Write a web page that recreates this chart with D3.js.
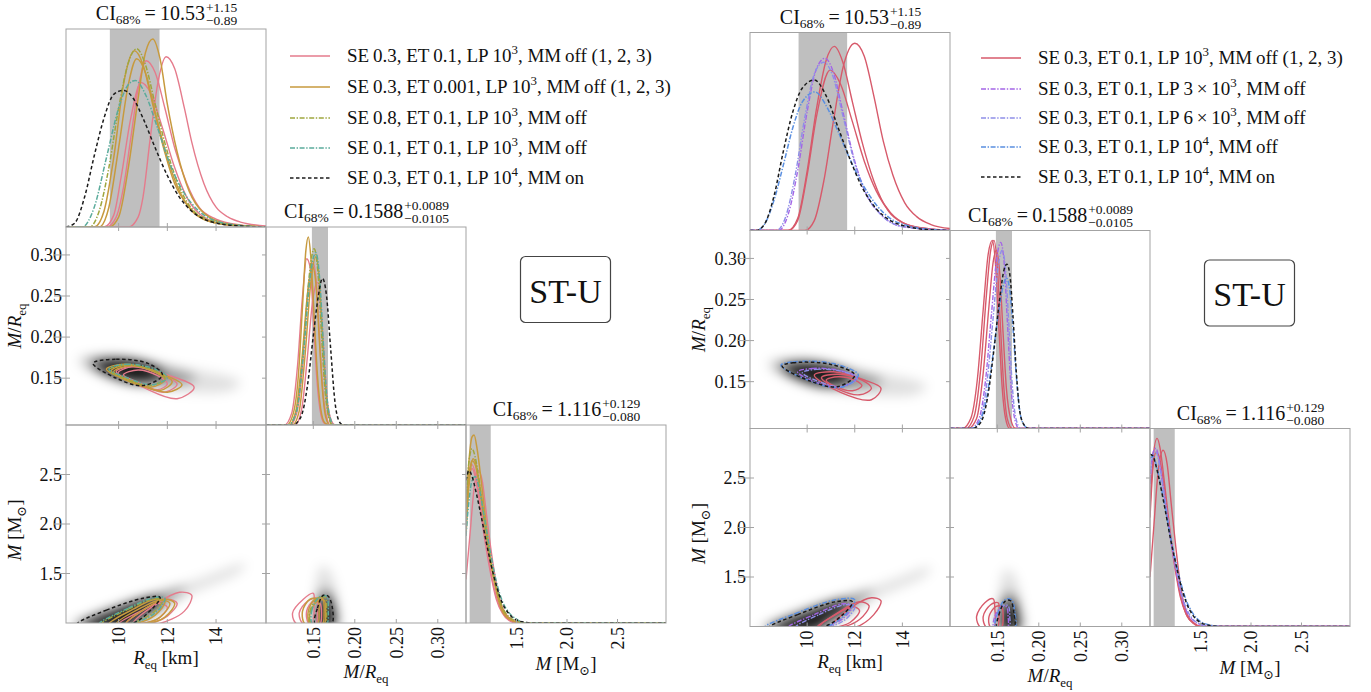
<!DOCTYPE html>
<html><head><meta charset="utf-8">
<script src="https://cdn.jsdelivr.net/npm/d3@7"></script>
<style>
body{margin:0;background:#fff}
svg{display:block}
</style>
</head><body>
<svg id="c" width="1371" height="692"></svg>
<script>
// ---------- axis setup ----------
const REQ_TICKS=[10,12,14], MR_TICKS=[0.15,0.20,0.25,0.30], M_TICKS=[1.5,2.0,2.5];
const REQ_TICK_LABELS=["10","12","14"], MR_TICK_LABELS=["0.15","0.20","0.25","0.30"], M_TICK_LABELS=["1.5","2.0","2.5"];
const MR_DOM=[0.093,0.334], M_XDOM=[1.0,2.98], M_YDOM=[1.0,3.0];
const CI_REQ=["10.53","+1.15","\u22120.89"], CI_MR=["0.1588","+0.0089","\u22120.0105"], CI_M=["1.116","+0.129","\u22120.080"];
const BAND_REQ=[9.64,11.68], BAND_MR=[0.1483,0.1677], BAND_M=[1.036,1.245];

// ---------- left figure: 1D Req ----------
const L_req_pink1=[[7.84,0],[10.4,0],[10.8,0.05],[11.0,0.15],[11.3,0.45],[11.6,0.72],[11.95,0.86],[12.3,0.8],[12.7,0.6],[13.0,0.43],[13.5,0.22],[14,0.1],[14.5,0.05],[15,0.025],[16.05,0.005]];
const L_req_pink2=[[7.84,0],[9.5,0],[9.9,0.05],[10.2,0.2],[10.5,0.45],[10.8,0.7],[11.13,0.84],[11.5,0.78],[11.9,0.6],[12.3,0.4],[12.8,0.22],[13.3,0.1],[14,0.04],[15,0.01],[16.05,0]];
const L_req_pink3=[[7.84,0],[9.4,0],[9.8,0.06],[10.1,0.25],[10.5,0.55],[10.92,0.73],[11.3,0.68],[11.8,0.5],[12.3,0.3],[12.8,0.15],[13.5,0.05],[14.5,0.01],[16.05,0]];
const L_req_gold1=[[7.84,0],[9.6,0],[10.0,0.05],[10.4,0.3],[10.8,0.65],[11.1,0.88],[11.4,0.95],[11.7,0.85],[12.0,0.62],[12.4,0.38],[12.9,0.18],[13.5,0.07],[14.5,0.015],[16.05,0]];
const L_req_gold2=[[7.84,0],[9.0,0],[9.4,0.08],[9.8,0.35],[10.2,0.72],[10.65,0.89],[11.0,0.82],[11.4,0.62],[11.8,0.42],[12.3,0.22],[12.9,0.1],[13.5,0.04],[14.5,0.01],[16.05,0]];
const L_req_gold3=[[7.84,0],[9.2,0],[9.6,0.1],[10.0,0.4],[10.4,0.72],[10.74,0.85],[11.1,0.78],[11.5,0.58],[12.0,0.35],[12.5,0.18],[13.1,0.07],[14,0.02],[16.05,0]];
const L_req_olive=[[7.84,0],[8.8,0],[9.2,0.08],[9.6,0.3],[10.0,0.6],[10.4,0.83],[10.74,0.9],[11.1,0.82],[11.5,0.62],[12.0,0.38],[12.5,0.2],[13.1,0.08],[14,0.025],[15,0.005],[16.05,0]];
const L_req_teal=[[7.84,0],[8.5,0],[9.0,0.1],[9.5,0.35],[10.0,0.6],[10.4,0.72],[10.69,0.74],[11.1,0.67],[11.6,0.5],[12.1,0.32],[12.7,0.17],[13.3,0.08],[14,0.03],[15,0.008],[16.05,0]];
const L_req_black=[[7.84,0],[8.2,0.02],[8.6,0.15],[9.0,0.36],[9.4,0.55],[9.8,0.67],[10.2,0.69],[10.6,0.65],[11.0,0.55],[11.5,0.4],[12.0,0.26],[12.5,0.15],[13,0.08],[13.5,0.04],[14,0.02],[15,0.005],[16.05,0]];
// ---------- left figure: 1D M/Req ----------
const L_mr_pink1=[[0.093,0],[0.115,0],[0.124,0.06],[0.131,0.3],[0.137,0.65],[0.142,0.84],[0.146,0.8],[0.150,0.55],[0.154,0.25],[0.158,0.08],[0.163,0.01],[0.168,0],[0.334,0]];
const L_mr_pink2=[[0.093,0],[0.122,0],[0.13,0.06],[0.137,0.3],[0.143,0.65],[0.150,0.82],[0.154,0.7],[0.158,0.4],[0.162,0.15],[0.166,0.04],[0.171,0],[0.334,0]];
const L_mr_pink3=[[0.093,0],[0.128,0],[0.136,0.08],[0.143,0.35],[0.149,0.62],[0.155,0.72],[0.159,0.6],[0.163,0.35],[0.167,0.12],[0.172,0.02],[0.176,0],[0.334,0]];
const L_mr_gold1=[[0.093,0],[0.118,0],[0.126,0.06],[0.132,0.25],[0.137,0.6],[0.141,0.88],[0.144,0.95],[0.147,0.85],[0.151,0.55],[0.155,0.25],[0.159,0.08],[0.164,0.01],[0.17,0],[0.334,0]];
const L_mr_gold2=[[0.093,0],[0.125,0],[0.133,0.07],[0.140,0.35],[0.147,0.72],[0.153,0.85],[0.157,0.75],[0.161,0.45],[0.165,0.18],[0.169,0.04],[0.174,0],[0.334,0]];
const L_mr_gold3=[[0.093,0],[0.121,0],[0.129,0.07],[0.136,0.32],[0.143,0.66],[0.149,0.8],[0.153,0.72],[0.157,0.45],[0.161,0.18],[0.165,0.04],[0.17,0],[0.334,0]];
const L_mr_olive=[[0.093,0],[0.12,0],[0.13,0.08],[0.138,0.38],[0.145,0.75],[0.151,0.89],[0.156,0.75],[0.160,0.45],[0.164,0.18],[0.168,0.05],[0.173,0],[0.334,0]];
const L_mr_teal=[[0.093,0],[0.12,0],[0.13,0.07],[0.138,0.35],[0.146,0.74],[0.153,0.87],[0.158,0.72],[0.162,0.42],[0.166,0.16],[0.170,0.04],[0.175,0],[0.334,0]];
const L_mr_black=[[0.093,0],[0.125,0],[0.135,0.04],[0.143,0.2],[0.150,0.45],[0.156,0.65],[0.161,0.74],[0.166,0.65],[0.171,0.38],[0.176,0.12],[0.181,0.02],[0.186,0],[0.334,0]];
// ---------- left figure: 1D M ----------
const L_m_pink1=[[1.0,0.22],[1.04,0.45],[1.08,0.68],[1.12,0.77],[1.16,0.72],[1.2,0.56],[1.25,0.36],[1.3,0.2],[1.36,0.08],[1.42,0.03],[1.5,0.005],[1.6,0],[2.98,0]];
const L_m_pink2=[[1.0,0.5],[1.03,0.72],[1.06,0.78],[1.09,0.74],[1.13,0.62],[1.18,0.44],[1.24,0.26],[1.3,0.12],[1.36,0.05],[1.42,0.015],[1.5,0],[2.98,0]];
const L_m_pink3=[[1.0,0.62],[1.03,0.77],[1.06,0.8],[1.1,0.74],[1.15,0.58],[1.2,0.4],[1.26,0.22],[1.32,0.1],[1.38,0.04],[1.45,0.01],[1.55,0],[2.98,0]];
const L_m_gold1=[[1.0,0.55],[1.03,0.82],[1.06,0.94],[1.08,0.95],[1.11,0.88],[1.15,0.72],[1.2,0.5],[1.25,0.3],[1.3,0.16],[1.35,0.07],[1.4,0.03],[1.5,0.005],[1.6,0],[2.98,0]];
const L_m_gold2=[[1.0,0.5],[1.03,0.74],[1.06,0.82],[1.09,0.8],[1.13,0.7],[1.18,0.52],[1.24,0.32],[1.3,0.17],[1.36,0.07],[1.42,0.025],[1.5,0.005],[1.6,0],[2.98,0]];
const L_m_gold3=[[1.0,0.45],[1.04,0.75],[1.07,0.83],[1.1,0.8],[1.14,0.68],[1.2,0.46],[1.26,0.27],[1.32,0.13],[1.38,0.05],[1.45,0.015],[1.55,0],[2.98,0]];
const L_m_olive=[[1.0,0.6],[1.03,0.82],[1.06,0.88],[1.09,0.84],[1.13,0.72],[1.18,0.52],[1.24,0.32],[1.3,0.18],[1.36,0.08],[1.43,0.03],[1.5,0.01],[1.6,0],[2.98,0]];
const L_m_teal=[[1.0,0.44],[1.03,0.62],[1.06,0.72],[1.09,0.74],[1.13,0.68],[1.18,0.54],[1.24,0.36],[1.3,0.21],[1.36,0.11],[1.43,0.05],[1.5,0.02],[1.6,0],[2.98,0]];
const L_m_black=[[1.0,0.72],[1.03,0.77],[1.06,0.74],[1.1,0.66],[1.15,0.54],[1.2,0.41],[1.25,0.29],[1.3,0.19],[1.36,0.1],[1.42,0.05],[1.5,0.015],[1.6,0.003],[1.7,0],[2.98,0]];
// ---------- left figure: contours (Req vs M/Req) ----------
const L_c10_pink1=[[9.97,0.156],[10.6,0.164],[12.0,0.154],[13.1,0.139],[12.4,0.125],[11.0,0.139]];
const L_c10_pink2=[[9.9,0.158],[10.5,0.164],[11.7,0.155],[12.4,0.143],[11.9,0.133],[10.8,0.143]];
const L_c10_pink3=[[10.2,0.154],[10.8,0.160],[11.6,0.153],[12.0,0.143],[11.6,0.136],[10.8,0.145]];
const L_c10_gold1=[[9.8,0.158],[10.5,0.165],[11.6,0.157],[12.2,0.146],[11.7,0.135],[10.6,0.146]];
const L_c10_gold2=[[9.5,0.161],[10.2,0.167],[11.3,0.160],[11.9,0.148],[11.3,0.139],[10.2,0.149]];
const L_c10_gold3=[[9.7,0.159],[10.4,0.166],[11.5,0.158],[12.6,0.142],[12.0,0.133],[10.7,0.144]];
const L_c10_olive=[[9.6,0.160],[10.3,0.166],[11.4,0.160],[11.9,0.150],[11.3,0.141],[10.2,0.150]];
const L_c10_teal=[[9.6,0.161],[10.3,0.167],[11.5,0.161],[12.0,0.151],[11.4,0.142],[10.3,0.151]];
const L_c10_black=[[8.95,0.168],[9.9,0.173],[11.2,0.168],[11.8,0.154],[11.0,0.141],[9.9,0.150]];
// ---------- left figure: contours (Req vs M) ----------
const L_c20_pink1=[[10.6,0.99],[11.6,1.2],[12.5,1.31],[13.0,1.28],[12.7,1.12],[11.6,0.99]];
const L_c20_pink2=[[10.3,0.99],[11.3,1.17],[12.0,1.24],[12.4,1.2],[12.0,1.07],[11.2,0.99]];
const L_c20_pink3=[[10.0,0.99],[10.9,1.12],[11.6,1.2],[12.0,1.16],[11.6,1.04],[10.8,0.99]];
const L_c20_gold1=[[10.3,0.99],[11.2,1.16],[11.9,1.24],[12.3,1.2],[11.9,1.06],[11.1,0.99]];
const L_c20_gold2=[[9.6,0.99],[10.6,1.14],[11.5,1.24],[11.9,1.22],[11.5,1.08],[10.6,0.99]];
const L_c20_gold3=[[9.9,0.99],[10.9,1.15],[11.7,1.23],[12.1,1.2],[11.7,1.06],[10.9,0.99]];
const L_c20_olive=[[9.3,0.99],[10.4,1.14],[11.4,1.24],[11.8,1.23],[11.4,1.1],[10.4,0.99]];
const L_c20_teal=[[9.2,0.99],[10.4,1.15],[11.5,1.26],[11.9,1.25],[11.5,1.1],[10.4,0.99]];
const L_c20_black=[[8.3,0.99],[9.5,1.13],[11.0,1.25],[11.7,1.26],[11.4,1.15],[10.5,0.99]];
// ---------- left figure: contours (M/Req vs M) ----------
const L_c21_pink1=[[0.130,0.99],[0.125,1.1],[0.138,1.24],[0.150,1.30],[0.151,1.2],[0.148,0.99]];
const L_c21_pink2=[[0.138,0.99],[0.133,1.1],[0.143,1.22],[0.154,1.25],[0.155,1.12],[0.153,0.99]];
const L_c21_pink3=[[0.145,0.99],[0.142,1.12],[0.150,1.22],[0.158,1.2],[0.160,1.08],[0.158,0.99]];
const L_c21_gold1=[[0.140,0.99],[0.137,1.12],[0.146,1.24],[0.155,1.24],[0.157,1.1],[0.155,0.99]];
const L_c21_gold2=[[0.146,0.99],[0.144,1.12],[0.152,1.24],[0.161,1.25],[0.163,1.1],[0.161,0.99]];
const L_c21_gold3=[[0.148,0.99],[0.146,1.1],[0.155,1.22],[0.163,1.23],[0.165,1.1],[0.163,0.99]];
const L_c21_olive=[[0.147,0.99],[0.146,1.12],[0.155,1.25],[0.164,1.26],[0.166,1.12],[0.164,0.99]];
const L_c21_teal=[[0.149,0.99],[0.148,1.12],[0.157,1.26],[0.166,1.27],[0.168,1.12],[0.166,0.99]];
const L_c21_black=[[0.152,0.99],[0.155,1.15],[0.162,1.28],[0.168,1.27],[0.173,1.15],[0.172,0.99]];

// ---------- right figure: 1D Req ----------
const R_req_red1=[[7.6,0],[9.9,0],[10.3,0.05],[10.7,0.25],[11.1,0.55],[11.5,0.82],[12.0,0.946],[12.4,0.88],[12.8,0.68],[13.2,0.45],[13.6,0.28],[14.1,0.14],[14.6,0.07],[15.2,0.03],[16.0,0.01]];
const R_req_red2=[[7.6,0],[9.2,0],[9.6,0.06],[10.0,0.3],[10.4,0.62],[10.8,0.86],[11.14,0.93],[11.5,0.85],[11.9,0.65],[12.3,0.45],[12.8,0.25],[13.4,0.1],[14,0.04],[15,0.01],[16.0,0]];
const R_req_red3=[[7.6,0],[9.2,0],[9.6,0.05],[10.0,0.28],[10.4,0.58],[10.96,0.81],[11.4,0.74],[11.9,0.55],[12.4,0.35],[12.9,0.2],[13.5,0.09],[14.2,0.03],[15,0.01],[16.0,0]];
const R_req_purple=[[7.6,0],[8.8,0],[9.2,0.08],[9.6,0.3],[10.0,0.6],[10.4,0.82],[10.75,0.87],[11.1,0.8],[11.5,0.6],[12.0,0.35],[12.5,0.18],[13.1,0.08],[14,0.02],[16.0,0]];
const R_req_lav=[[7.6,0],[8.7,0],[9.1,0.07],[9.5,0.28],[9.9,0.57],[10.3,0.79],[10.7,0.85],[11.05,0.79],[11.5,0.58],[12.0,0.34],[12.5,0.18],[13.1,0.08],[14,0.02],[16.0,0]];
const R_req_blue=[[7.6,0],[7.85,0],[8.2,0.03],[8.6,0.15],[9.0,0.33],[9.4,0.52],[9.8,0.65],[10.33,0.70],[10.8,0.63],[11.3,0.5],[11.8,0.36],[12.3,0.24],[12.9,0.13],[13.5,0.06],[14.2,0.025],[15,0.008],[16.0,0]];
const R_req_black=[[7.6,0],[7.85,0],[8.2,0.03],[8.6,0.17],[9.0,0.4],[9.4,0.6],[9.8,0.72],[10.3,0.76],[10.8,0.68],[11.3,0.52],[11.8,0.36],[12.3,0.22],[12.9,0.11],[13.5,0.05],[14.2,0.02],[15,0.005],[16.0,0]];
// ---------- right figure: 1D M/Req ----------
const R_mr_red1=[[0.093,0],[0.108,0],[0.118,0.05],[0.126,0.25],[0.133,0.6],[0.139,0.88],[0.144,0.95],[0.148,0.82],[0.152,0.5],[0.156,0.2],[0.160,0.05],[0.165,0],[0.334,0]];
const R_mr_red2=[[0.093,0],[0.112,0],[0.122,0.06],[0.13,0.3],[0.137,0.68],[0.142,0.9],[0.146,0.95],[0.150,0.82],[0.154,0.5],[0.158,0.2],[0.162,0.05],[0.168,0],[0.334,0]];
const R_mr_red3=[[0.093,0],[0.115,0],[0.125,0.05],[0.133,0.28],[0.14,0.62],[0.145,0.84],[0.149,0.9],[0.153,0.78],[0.157,0.48],[0.161,0.2],[0.166,0.05],[0.172,0],[0.334,0]];
const R_mr_purple=[[0.093,0],[0.118,0],[0.128,0.05],[0.136,0.25],[0.143,0.58],[0.149,0.85],[0.154,0.94],[0.158,0.85],[0.162,0.55],[0.166,0.24],[0.170,0.07],[0.176,0],[0.334,0]];
const R_mr_lav=[[0.093,0],[0.12,0],[0.13,0.05],[0.138,0.25],[0.145,0.56],[0.151,0.82],[0.156,0.9],[0.160,0.8],[0.164,0.52],[0.168,0.22],[0.172,0.06],[0.178,0],[0.334,0]];
const R_mr_blue=[[0.093,0],[0.118,0],[0.128,0.03],[0.137,0.15],[0.145,0.38],[0.152,0.6],[0.157,0.72],[0.161,0.76],[0.165,0.7],[0.169,0.5],[0.173,0.26],[0.177,0.09],[0.182,0.02],[0.188,0],[0.334,0]];
const R_mr_black=[[0.093,0],[0.12,0],[0.13,0.03],[0.138,0.15],[0.146,0.4],[0.153,0.66],[0.158,0.8],[0.1615,0.83],[0.165,0.78],[0.169,0.56],[0.173,0.28],[0.177,0.09],[0.182,0.02],[0.188,0],[0.334,0]];
// ---------- right figure: 1D M ----------
const R_m_red1=[[1.0,0.6],[1.03,0.85],[1.07,0.95],[1.1,0.9],[1.14,0.74],[1.19,0.52],[1.25,0.3],[1.31,0.14],[1.37,0.05],[1.44,0.015],[1.5,0],[2.98,0]];
const R_m_red2=[[1.0,0.25],[1.04,0.52],[1.08,0.78],[1.13,0.89],[1.17,0.82],[1.21,0.62],[1.26,0.38],[1.31,0.18],[1.37,0.06],[1.44,0.015],[1.5,0],[2.98,0]];
const R_m_red3=[[1.0,0.55],[1.03,0.8],[1.06,0.88],[1.09,0.86],[1.13,0.74],[1.18,0.54],[1.24,0.32],[1.3,0.15],[1.36,0.06],[1.43,0.015],[1.5,0],[2.98,0]];
const R_m_purple=[[1.0,0.72],[1.03,0.88],[1.06,0.9],[1.09,0.84],[1.13,0.7],[1.18,0.52],[1.24,0.33],[1.3,0.18],[1.36,0.08],[1.43,0.03],[1.5,0.01],[1.6,0],[2.98,0]];
const R_m_lav=[[1.0,0.74],[1.03,0.87],[1.06,0.88],[1.1,0.8],[1.15,0.64],[1.2,0.46],[1.26,0.29],[1.32,0.15],[1.38,0.07],[1.45,0.025],[1.55,0.005],[1.65,0],[2.98,0]];
const R_m_blue=[[1.0,0.85],[1.03,0.86],[1.06,0.82],[1.1,0.73],[1.15,0.6],[1.2,0.46],[1.25,0.34],[1.3,0.23],[1.36,0.13],[1.42,0.07],[1.5,0.025],[1.6,0.007],[1.7,0],[2.98,0]];
const R_m_black=[[1.0,0.87],[1.03,0.86],[1.06,0.81],[1.1,0.72],[1.15,0.59],[1.2,0.45],[1.25,0.33],[1.3,0.22],[1.36,0.12],[1.42,0.06],[1.5,0.02],[1.6,0.005],[1.7,0],[2.98,0]];
// ---------- right figure: contours ----------
const R_c10_red1=[[10.3,0.158],[11.1,0.162],[12.4,0.152],[13.1,0.142],[12.7,0.128],[11.4,0.137]];
const R_c10_red2=[[10.6,0.155],[11.3,0.159],[12.3,0.152],[12.7,0.142],[12.2,0.134],[11.3,0.141]];
const R_c10_red3=[[10.8,0.152],[11.3,0.156],[12.0,0.152],[12.3,0.145],[11.9,0.139],[11.2,0.144]];
const R_c10_purple=[[9.6,0.162],[10.2,0.166],[11.3,0.164],[12.1,0.155],[11.4,0.144],[10.3,0.150]];
const R_c10_lav=[[9.8,0.161],[10.4,0.165],[11.4,0.163],[12.1,0.154],[11.5,0.144],[10.5,0.150]];
const R_c10_blue=[[8.9,0.170],[9.4,0.174],[11.1,0.172],[12.15,0.158],[11.4,0.143],[10.2,0.150]];
const R_c10_black=[[8.95,0.169],[9.4,0.173],[11.0,0.171],[12.0,0.158],[11.3,0.144],[10.2,0.150]];
const R_c20_red1=[[11.0,0.99],[11.9,1.2],[12.7,1.29],[13.1,1.26],[12.8,1.12],[12.0,0.99]];
const R_c20_red2=[[10.5,0.99],[11.5,1.17],[12.2,1.25],[12.6,1.21],[12.2,1.07],[11.4,0.99]];
const R_c20_red3=[[10.4,0.99],[11.2,1.12],[11.9,1.2],[12.2,1.16],[11.8,1.04],[11.1,0.99]];
const R_c20_purple=[[9.2,0.99],[10.3,1.12],[11.5,1.23],[11.9,1.21],[11.5,1.08],[10.6,0.99]];
const R_c20_lav=[[9.5,0.99],[10.5,1.12],[11.6,1.22],[12.0,1.2],[11.6,1.07],[10.8,0.99]];
const R_c20_blue=[[8.2,0.99],[9.5,1.13],[11.2,1.27],[12.0,1.27],[11.6,1.12],[10.7,0.99]];
const R_c20_black=[[8.4,0.99],[9.6,1.12],[11.2,1.25],[11.9,1.25],[11.5,1.12],[10.6,0.99]];
const R_c21_red1=[[0.130,0.99],[0.125,1.1],[0.135,1.24],[0.145,1.28],[0.147,1.18],[0.146,0.99]];
const R_c21_red2=[[0.137,0.99],[0.133,1.1],[0.142,1.22],[0.151,1.24],[0.152,1.12],[0.150,0.99]];
const R_c21_red3=[[0.142,0.99],[0.140,1.1],[0.148,1.2],[0.155,1.2],[0.157,1.08],[0.155,0.99]];
const R_c21_purple=[[0.146,0.99],[0.147,1.1],[0.155,1.2],[0.161,1.2],[0.163,1.1],[0.162,0.99]];
const R_c21_lav=[[0.148,0.99],[0.149,1.1],[0.157,1.21],[0.163,1.21],[0.165,1.1],[0.164,0.99]];
const R_c21_blue=[[0.148,0.99],[0.150,1.12],[0.159,1.27],[0.167,1.27],[0.171,1.14],[0.171,0.99]];
const R_c21_black=[[0.150,0.99],[0.152,1.12],[0.160,1.26],[0.166,1.26],[0.170,1.14],[0.170,0.99]];

// ---------- grey posterior density (MM on) ----------
const DENS_c10_outer=[[8.3,0.172],[9.5,0.179],[12,0.166],[15.0,0.145],[14.6,0.135],[12,0.135],[9.5,0.149]];
const DENS_c10_mid=[[8.6,0.170],[10,0.176],[12,0.163],[13.2,0.150],[12,0.141],[10,0.149]];
const DENS_c10_core=[[9.0,0.167],[10,0.172],[11.3,0.166],[11.8,0.155],[10.8,0.145],[9.8,0.152]];
const DENS_c20_outer=[[7.9,0.97],[10,1.2],[13,1.42],[15.2,1.6],[15.0,1.52],[13,1.3],[11,1.05],[10,0.97]];
const DENS_c20_mid=[[8.2,0.97],[10,1.17],[12,1.32],[12.8,1.36],[12,1.2],[10.5,0.97]];
const DENS_c20_core=[[8.4,0.97],[10,1.14],[11.5,1.25],[11.8,1.2],[10.8,1.05],[10.5,0.97]];
const DENS_c21_outer=[[0.150,0.97],[0.152,1.3],[0.160,1.58],[0.170,1.52],[0.180,1.2],[0.182,0.97]];
const DENS_c21_mid=[[0.153,0.97],[0.154,1.2],[0.162,1.35],[0.172,1.3],[0.178,1.1],[0.178,0.97]];
const DENS_c21_core=[[0.156,0.97],[0.157,1.15],[0.163,1.26],[0.170,1.22],[0.174,1.1],[0.174,0.97]];
const DENS_OPAC=[0.12,0.32,0.85];

// ---------- legends ----------
const L_LEGEND_KEYS=["pink","gold","olive","teal","black"];
const L_LEGEND_LABELS=["SE\u20090.3, ET\u20090.1, LP\u200910^3, MM\u2009off (1, 2, 3)","SE\u20090.3, ET\u20090.001, LP\u200910^3, MM\u2009off (1, 2, 3)","SE\u20090.8, ET\u20090.1, LP\u200910^3, MM\u2009off","SE\u20090.1, ET\u20090.1, LP\u200910^3, MM\u2009off","SE\u20090.3, ET\u20090.1, LP\u200910^4, MM\u2009on"];
const R_LEGEND_KEYS=["red","purple","lav","blue","black"];
const R_LEGEND_LABELS=["SE\u20090.3, ET\u20090.1, LP\u200910^3, MM\u2009off (1, 2, 3)","SE\u20090.3, ET\u20090.1, LP\u20093\u2009\u00d7\u200910^3, MM\u2009off","SE\u20090.3, ET\u20090.1, LP\u20096\u2009\u00d7\u200910^3, MM\u2009off","SE\u20090.3, ET\u20090.1, LP\u200910^4, MM\u2009off","SE\u20090.3, ET\u20090.1, LP\u200910^4, MM\u2009on"];
const PANEL_TAG="ST-U";

// ---------- styles ----------
const DD="5,1.6,1.4,1.6";
const STY={
  pink:{c:"#e57b8c",d:null,w:1.4}, gold:{c:"#c79a3e",d:null,w:1.5},
  olive:{c:"#9fa63e",d:DD,w:1.5}, teal:{c:"#5aab9b",d:DD,w:1.5},
  black:{c:"#1b1b1b",d:"3.5,2.5",w:1.5},
  red:{c:"#d75a6b",d:null,w:1.4}, purple:{c:"#a466e6",d:DD,w:1.4},
  lav:{c:"#8e8ee8",d:DD,w:1.4}, blue:{c:"#5a8fe0",d:DD,w:1.5}
};

function ser(sty,req,mr,m,c10,c20,c21){return {sty,req,mr,m,c10,c20,c21};}
const LEFT_SERIES=[
 ser("pink",L_req_pink1,L_mr_pink1,L_m_pink1,L_c10_pink1,L_c20_pink1,L_c21_pink1),
 ser("pink",L_req_pink2,L_mr_pink2,L_m_pink2,L_c10_pink2,L_c20_pink2,L_c21_pink2),
 ser("pink",L_req_pink3,L_mr_pink3,L_m_pink3,L_c10_pink3,L_c20_pink3,L_c21_pink3),
 ser("gold",L_req_gold1,L_mr_gold1,L_m_gold1,L_c10_gold1,L_c20_gold1,L_c21_gold1),
 ser("gold",L_req_gold2,L_mr_gold2,L_m_gold2,L_c10_gold2,L_c20_gold2,L_c21_gold2),
 ser("gold",L_req_gold3,L_mr_gold3,L_m_gold3,L_c10_gold3,L_c20_gold3,L_c21_gold3),
 ser("olive",L_req_olive,L_mr_olive,L_m_olive,L_c10_olive,L_c20_olive,L_c21_olive),
 ser("teal",L_req_teal,L_mr_teal,L_m_teal,L_c10_teal,L_c20_teal,L_c21_teal),
 ser("black",L_req_black,L_mr_black,L_m_black,L_c10_black,L_c20_black,L_c21_black)
];
const RIGHT_SERIES=[
 ser("red",R_req_red1,R_mr_red1,R_m_red1,R_c10_red1,R_c20_red1,R_c21_red1),
 ser("red",R_req_red2,R_mr_red2,R_m_red2,R_c10_red2,R_c20_red2,R_c21_red2),
 ser("red",R_req_red3,R_mr_red3,R_m_red3,R_c10_red3,R_c20_red3,R_c21_red3),
 ser("purple",R_req_purple,R_mr_purple,R_m_purple,R_c10_purple,R_c20_purple,R_c21_purple),
 ser("lav",R_req_lav,R_mr_lav,R_m_lav,R_c10_lav,R_c20_lav,R_c21_lav),
 ser("blue",R_req_blue,R_mr_blue,R_m_blue,R_c10_blue,R_c20_blue,R_c21_blue),
 ser("black",R_req_black,R_mr_black,R_m_black,R_c10_black,R_c20_black,R_c21_black)
];
const DENS={c10:[DENS_c10_outer,DENS_c10_mid,DENS_c10_core],c20:[DENS_c20_outer,DENS_c20_mid,DENS_c20_core],c21:[DENS_c21_outer,DENS_c21_mid,DENS_c21_core]};

const FIGS=[
 {x0:66,y0:29,reqDom:[7.84,16.05],series:LEFT_SERIES,lkeys:L_LEGEND_KEYS,llabels:L_LEGEND_LABELS,legX:290,legY:[56,87,118,148,178]},
 {x0:750,y0:32.5,reqDom:[7.6,16.0],series:RIGHT_SERIES,lkeys:R_LEGEND_KEYS,llabels:R_LEGEND_LABELS,legX:981,legY:[58,89,118,147,177]}
];

// ---------- drawing ----------
const PW=200, PH=198;
const FRAME="#a3a3a3";
const FONT="'Liberation Serif','Tinos','DejaVu Serif','Noto Serif',serif";
const svg=d3.select("#c");
const defs=svg.append("defs");
defs.append("filter").attr("id","blur").attr("x","-50%").attr("y","-50%").attr("width","200%").attr("height","200%")
  .append("feGaussianBlur").attr("stdDeviation",6);
let clipN=0;

function T(sel){return sel.append("text").style("font-family",FONT).attr("fill","#111");}
function rich(t,parts,fs){
  let shift=0;
  parts.forEach(p=>{
    const target=p.sub?fs*0.28:(p.sup?-fs*0.4:0);
    const ts=t.append("tspan").text(p.t).attr("dy",target-shift);
    shift=target;
    if(p.sub||p.sup) ts.attr("font-size",fs*0.68);
    if(p.i) ts.attr("font-style","italic");
  });
}
function parseSup(s){
  const a=s.split(/\^(\S)/); return a.map((t,i)=>({t,sup:i%2===1}));
}
function ci(g,cx,yb,vals){
  const fs=20, ss=13.5;
  const t=T(g).attr("y",yb).attr("font-size",fs);
  t.append("tspan").text("CI");
  t.append("tspan").attr("font-size",ss).attr("dy",4).text("68%");
  t.append("tspan").attr("dy",-4).text("\u2009=\u2009"+vals[0]);
  const w=t.node().getComputedTextLength();
  const sup=T(g).attr("y",yb-8).attr("font-size",ss).text(vals[1]);
  const sub=T(g).attr("y",yb+5).attr("font-size",ss).text(vals[2]);
  const ws=Math.max(sup.node().getComputedTextLength(),sub.node().getComputedTextLength());
  const x0=cx-(w+ws)/2;
  t.attr("x",x0); sup.attr("x",x0+w+1); sub.attr("x",x0+w+1);
}
function clipRect(x,y,w,h){
  const id="cp"+(clipN++);
  defs.append("clipPath").attr("id",id).append("rect").attr("x",x).attr("y",y).attr("width",w).attr("height",h);
  return "url(#"+id+")";
}
function styleLine(p,k){
  const s=STY[k];
  p.attr("fill","none").attr("stroke",s.c).attr("stroke-width",s.w).attr("stroke-dasharray",s.d);
}
function ticksH(g,xs,vals,y,dir){
  g.selectAll(null).data(vals).join("line").attr("x1",d=>xs(d)).attr("x2",d=>xs(d)).attr("y1",y).attr("y2",y+dir*4)
   .attr("stroke",FRAME).attr("stroke-width",1);
}
function ticksV(g,ys,vals,x,dir){
  g.selectAll(null).data(vals).join("line").attr("y1",d=>ys(d)).attr("y2",d=>ys(d)).attr("x1",x).attr("x2",x+dir*4)
   .attr("stroke",FRAME).attr("stroke-width",1);
}

function drawFig(F){
  const g=svg.append("g");
  const x0=F.x0,y0=F.y0;
  const X=[d3.scaleLinear().domain(F.reqDom).range([x0,x0+PW]),
           d3.scaleLinear().domain(MR_DOM).range([x0+PW,x0+2*PW]),
           d3.scaleLinear().domain(M_XDOM).range([x0+2*PW,x0+3*PW])];
  const Y={1:d3.scaleLinear().domain(MR_DOM).range([y0+2*PH,y0+PH]),
           2:d3.scaleLinear().domain(M_YDOM).range([y0+3*PH,y0+2*PH])};
  const keys=["req","mr","m"], TK=[REQ_TICKS,MR_TICKS,M_TICKS], TL=[REQ_TICK_LABELS,MR_TICK_LABELS,M_TICK_LABELS];
  const BANDS=[BAND_REQ,BAND_MR,BAND_M], CIS=[CI_REQ,CI_MR,CI_M];

  for(let i=0;i<3;i++){
    const px=x0+i*PW, py=y0+i*PH;
    const ys=d3.scaleLinear().domain([0,1]).range([py+PH,py]);
    const pg=g.append("g").attr("clip-path",clipRect(px,py,PW,PH));
    pg.append("rect").attr("x",X[i](BANDS[i][0])).attr("y",py).attr("width",X[i](BANDS[i][1])-X[i](BANDS[i][0])).attr("height",PH).attr("fill","#bfbfbf");
    const line=d3.line().x(d=>X[i](d[0])).y(d=>ys(d[1])).curve(d3.curveMonotoneX);
    F.series.forEach(s=>{ styleLine(pg.append("path").attr("d",line(s[keys[i]])),s.sty); });
    g.append("rect").attr("x",px).attr("y",py).attr("width",PW).attr("height",PH).attr("fill","none").attr("stroke",FRAME);
    ticksH(g,X[i],TK[i],py+PH,-1);
    ci(g,px+PW/2,py-9,CIS[i]);
  }
  [[1,0],[2,0],[2,1]].forEach(([r,c])=>{
    const px=x0+c*PW, py=y0+r*PH, key="c"+r+c;
    const pg=g.append("g").attr("clip-path",clipRect(px,py,PW,PH));
    const line=d3.line().x(d=>X[c](d[0])).y(d=>Y[r](d[1])).curve(d3.curveCatmullRomClosed.alpha(0.5));
    const dg=pg.append("g").attr("filter","url(#blur)");
    DENS[key].forEach((pts,k)=>dg.append("path").attr("d",line(pts)).attr("fill","#000").attr("opacity",DENS_OPAC[k]));
    F.series.forEach(s=>{ styleLine(pg.append("path").attr("d",line(s[key])),s.sty); });
    g.append("rect").attr("x",px).attr("y",py).attr("width",PW).attr("height",PH).attr("fill","none").attr("stroke",FRAME);
    ticksH(g,X[c],TK[c],py+PH,-1); ticksH(g,X[c],TK[c],py,1);
    ticksV(g,Y[r],TK[r],px,1); ticksV(g,Y[r],TK[r],px+PW,-1);
  });
  [1,2].forEach(r=>{
    TK[r].forEach((d,i)=>{
      T(g).attr("x",x0-4).attr("y",Y[r](d)).attr("dy","0.35em").attr("text-anchor","end").attr("font-size",18).text(TL[r][i]);
    });
    ticksV(g,Y[r],TK[r],x0,-3);
  });
  const yb=y0+3*PH;
  for(let c=0;c<3;c++){
    TK[c].forEach((d,i)=>{
      T(g).attr("transform",`translate(${X[c](d)},${yb+4}) rotate(-90)`)
       .attr("text-anchor","end").attr("dy","0.35em").attr("font-size",18).text(TL[c][i]);
    });
  }
  const fsA=19;
  rich(T(g).attr("x",x0+PW/2).attr("y",yb+41).attr("text-anchor","middle").attr("font-size",fsA),
       [{t:"R",i:true},{t:"eq",sub:true},{t:" [km]"}],fsA);
  rich(T(g).attr("x",x0+1.5*PW).attr("y",yb+55).attr("text-anchor","middle").attr("font-size",fsA),
       [{t:"M",i:true},{t:"/"},{t:"R",i:true},{t:"eq",sub:true}],fsA);
  rich(T(g).attr("x",x0+2.5*PW).attr("y",yb+47).attr("text-anchor","middle").attr("font-size",fsA),
       [{t:"M",i:true},{t:" [M"},{t:"\u2299",sub:true},{t:"]"}],fsA);
  rich(T(g).attr("transform",`translate(${x0-45},${y0+1.5*PH}) rotate(-90)`).attr("text-anchor","middle").attr("font-size",fsA),
       [{t:"M",i:true},{t:"/"},{t:"R",i:true},{t:"eq",sub:true}],fsA);
  rich(T(g).attr("transform",`translate(${x0-45},${y0+2.5*PH+6}) rotate(-90)`).attr("text-anchor","middle").attr("font-size",fsA),
       [{t:"M",i:true},{t:" [M"},{t:"\u2299",sub:true},{t:"]"}],fsA);
  F.lkeys.forEach((k,i)=>{
    const y=F.legY[i];
    styleLine(g.append("line").attr("x1",F.legX).attr("x2",F.legX+40).attr("y1",y).attr("y2",y),k);
    const t=T(g).attr("x",F.legX+57).attr("y",y+6).attr("font-size",19);
    rich(t,parseSup(F.llabels[i]),19);
  });
  const bx=x0+454.5, by=y0+227.5;
  g.append("rect").attr("x",bx).attr("y",by).attr("width",90).attr("height",66).attr("rx",5)
   .attr("fill","#fff").attr("stroke","#444").attr("stroke-width",1.2);
  T(g).attr("x",bx+45).attr("y",by+46).attr("text-anchor","middle").attr("font-size",34).text(PANEL_TAG);
}
FIGS.forEach(drawFig);
</script>
</body></html>
